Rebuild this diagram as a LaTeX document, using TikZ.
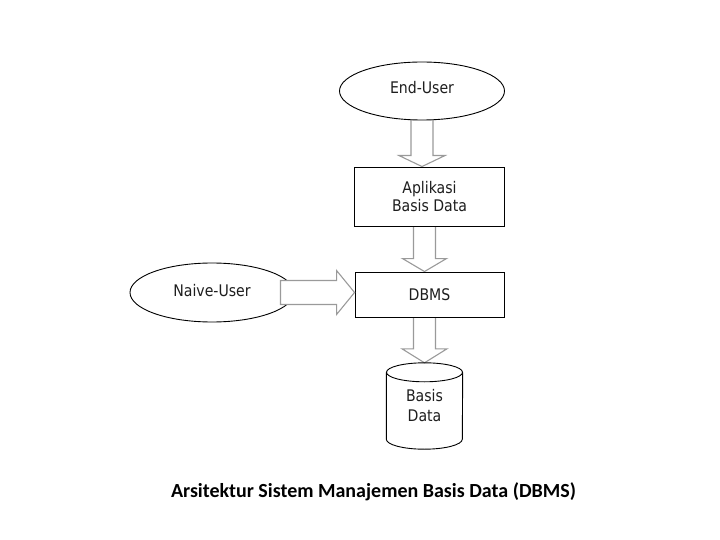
\documentclass[tikz,border=0pt]{standalone}
\usepackage{fontspec}
\setmainfont{Carlito}
\newfontfamily\diafont[FakeStretch=0.88]{DejaVu Sans}
\usetikzlibrary{shapes.geometric,calc,backgrounds}
\definecolor{arrgray}{HTML}{9A9A9A}
\definecolor{txtdark}{HTML}{1E1E1E}
\tikzset{
  lbl/.style={font=\diafont\fontsize{16}{18}\selectfont, text=txtdark},
  userell/.style={ellipse, draw=black, line width=0.9pt, fill=white, inner sep=0pt,
                  minimum width=165pt, minimum height=58pt, lbl},
  procbox/.style={rectangle, draw=black, line width=0.9pt, fill=white, inner sep=0pt,
                  minimum width=150pt, lbl, align=center},
  blockarr/.style={draw=arrgray, line width=1.1pt, fill=white, line join=miter}
}
\begin{document}
\begin{tikzpicture}[x=1pt,y=-1pt]
\useasboundingbox (0,0) rectangle (720,540);

\node[userell, text depth=8pt] (eu) at (422,91) {End-User};
\node[procbox, minimum height=59pt, font=\diafont\fontsize{16}{17.6}\selectfont] (app) at (429.5,196.5) {Aplikasi\\Basis Data};
\node[procbox, minimum height=45pt, minimum width=149pt] (dbms) at (429.5,294.5) {DBMS};
\node[userell, minimum width=164pt, minimum height=59pt, text depth=5pt] (nu) at (212,292.5) {Naive-User};
\node[lbl, align=center, inner sep=0pt, minimum width=76pt, minimum height=86pt,
      font=\diafont\fontsize{16}{20}\selectfont] (db) at (424.5,406) {Basis\\Data};

% cylinder outline
\draw[black, line width=0.9pt]
  (db.north west) ++(0,9.5) coordinate (ctl)
  (db.north east) ++(0,9.5) coordinate (ctr)
  (db.south west) ++(0,-10) coordinate (cbl)
  (db.south east) ++(0,-10) coordinate (cbr);
\draw[black, line width=0.9pt] ($(ctl)!0.5!(ctr)$) ellipse [x radius=38, y radius=9.5];
\draw[black, line width=0.9pt] (ctl) -- (cbl) arc[start angle=180, end angle=360, x radius=38, y radius=-10] -- (ctr);

% vertical block arrows (behind the nodes)
\begin{scope}[on background layer]
  \draw[blockarr]
    ($(eu.south)+(-11,-4)$) -- ($(eu.south |- app.north)+(-11,-11)$) -- ($(eu.south |- app.north)+(-23,-11)$)
    -- (eu.south |- app.north) -- ($(eu.south |- app.north)+(23,-11)$) -- ($(eu.south |- app.north)+(11,-11)$)
    -- ($(eu.south)+(11,-4)$);
  \draw[blockarr]
    ($(app.south -| db.north)+(-11,-3)$) -- ($(dbms.north -| db.north)+(-11,-13)$) -- ($(dbms.north -| db.north)+(-22,-13)$)
    -- (dbms.north -| db.north) -- ($(dbms.north -| db.north)+(22,-13)$) -- ($(dbms.north -| db.north)+(11,-13)$)
    -- ($(app.south -| db.north)+(11,-3)$);
  \draw[blockarr]
    ($(dbms.south -| db.north)+(-11,-3)$) -- ($(db.north)+(-11,-14)$) -- ($(db.north)+(-22.5,-14)$)
    -- (db.north) -- ($(db.north)+(22.5,-14)$) -- ($(db.north)+(11,-14)$)
    -- ($(dbms.south -| db.north)+(11,-3)$);
\end{scope}

% horizontal block arrow (over the ellipse)
\draw[blockarr]
  ($(nu.east)+(-14,-12)$) -- ($(nu.east -| dbms.west)+(-18,-12)$) -- ($(nu.east -| dbms.west)+(-18,-22)$)
  -- (nu.east -| dbms.west) -- ($(nu.east -| dbms.west)+(-18,22)$) -- ($(nu.east -| dbms.west)+(-18,12)$)
  -- ($(nu.east)+(-14,12)$) -- cycle;

\node[anchor=base, inner sep=0pt, font=\bfseries\fontsize{20}{24}\selectfont] (cap) at (373.5,497)
  {Arsitektur Sistem Manajemen Basis Data (DBMS)};
\end{tikzpicture}
\end{document}
